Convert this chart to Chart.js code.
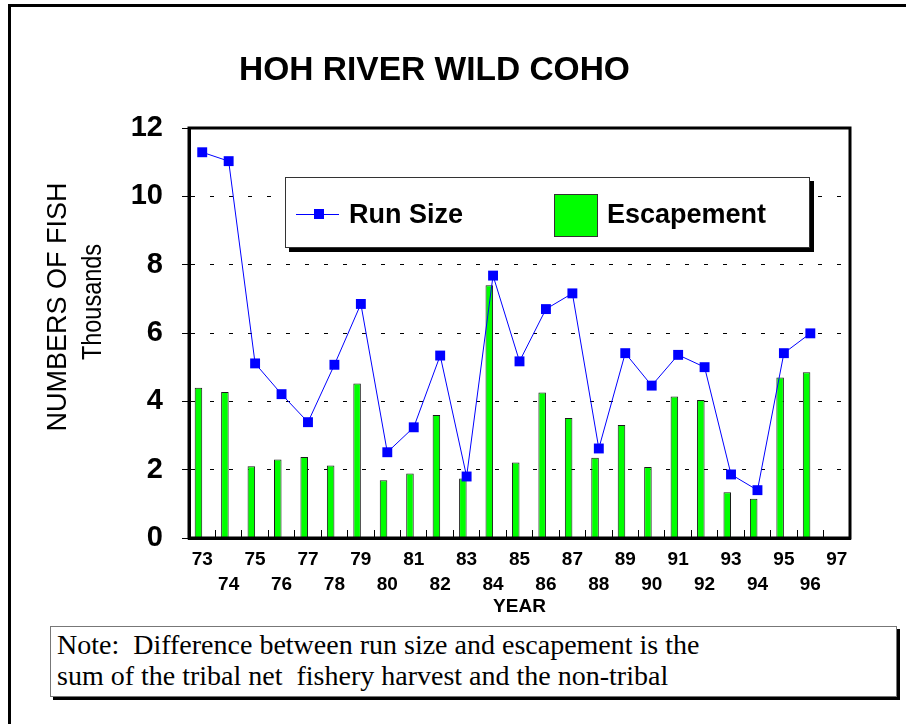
<!DOCTYPE html>
<html>
<head>
<meta charset="utf-8">
<title>Hoh River Wild Coho</title>
<script src="https://cdn.jsdelivr.net/npm/chart.js@4.4.1/dist/chart.umd.min.js"></script>
<style>
  html, body { margin: 0; padding: 0; background: #fff; }
  body { width: 906px; height: 724px; position: relative; overflow: hidden;
         font-family: "Liberation Sans", Arial, sans-serif; color: #000; }
  #chartBox { position: absolute; left: 0; top: 0; width: 906px; height: 620px; }

  /* page frame (top + left rule only, like the scan) */
  .frame-top  { position: absolute; left: 8px; top: 4px; width: 898px; height: 3px; background: #000; }
  .frame-left { position: absolute; left: 8px; top: 4px; width: 3px; height: 720px; background: #000; }

  .title { position: absolute; left: 0; top: 48px; width: 869px; text-align: center;
           font-weight: bold; font-size: 33.5px; line-height: 42px; }

  /* rotated y-axis caption; second line is a touch condensed like the scan */
  .ytitle { position: absolute; white-space: nowrap; font-size: 27px; line-height: 27px; }
  .ytitle.main { left: 57px; top: 307px; transform: translate(-50%, -50%) rotate(-90deg); }
  .ytitle.sub  { left: 92px; top: 302px; transform: translate(-50%, -50%) rotate(-90deg) scaleX(0.87); }

  /* legend box sits inside the plot */
  .legend { position: absolute; left: 285px; top: 177px; width: 525px; height: 71px;
            box-sizing: border-box; border: 1px solid #333; background: #fff;
            box-shadow: 4px 4px 0 #000; }
  .legend .lg-line { position: absolute; left: 10px; top: 36px; width: 43px; height: 1px; background: #0000ff; }
  .legend .lg-mark { position: absolute; left: 28px; top: 31px; width: 10px; height: 10px; background: #0000ff; }
  .legend .lg-swatch { position: absolute; left: 268px; top: 16px; width: 44px; height: 43px;
                       box-sizing: border-box; background: #00ff00; border: 1px solid #333; }
  .legend .lg-text { position: absolute; top: 23px; font-weight: bold; font-size: 27px; line-height: 27px; white-space: nowrap; }

  .note { position: absolute; left: 50px; top: 626px; width: 847px; height: 71px; box-sizing: border-box;
          border: 1px solid #777; background: #fff; box-shadow: 3px 3px 0 #000;
          font-family: "Liberation Serif", "Times New Roman", serif; font-size: 28px; line-height: 31px;
          padding: 2px 0 0 6px; white-space: pre; }
</style>
</head>
<body>
<div class="frame-top"></div>
<div class="frame-left"></div>

<div id="chartBox"><canvas id="cohoChart" width="906" height="620"></canvas></div>

<div class="title">HOH RIVER WILD COHO</div>
<div class="ytitle main">NUMBERS OF FISH</div>
<div class="ytitle sub">Thousands</div>

<div class="legend">
  <div class="lg-line"></div>
  <div class="lg-mark"></div>
  <div class="lg-text" style="left:63px">Run Size</div>
  <div class="lg-swatch"></div>
  <div class="lg-text" style="left:321px">Escapement</div>
</div>

<div class="note">Note:  Difference between run size and escapement is the
sum of the tribal net  fishery harvest and the non-tribal</div>

<script>
// ---- data (thousands of fish) ----
const years = ['73', '74', '75', '76', '77', '78', '79', '80', '81', '82', '83', '84',
               '85', '86', '87', '88', '89', '90', '91', '92', '93', '94', '95', '96', '97'];

const runSize = [11.29, 11.03, 5.11, 4.21, 3.39, 5.07, 6.85, 2.51, 3.24, 5.34, 1.80, 7.68,
                 5.17, 6.70, 7.16, 2.62, 5.41, 4.46, 5.36, 5.00, 1.86, 1.40, 5.41, 5.99];

const escapement = [4.40, 4.27, 2.10, 2.30, 2.37, 2.12, 4.52, 1.69, 1.89, 3.60, 1.74, 7.40,
                    2.21, 4.26, 3.51, 2.35, 3.31, 2.08, 4.14, 4.04, 1.34, 1.15, 4.70, 4.85];

const yMin = 0;
const yMax = 12;

document.addEventListener('DOMContentLoaded', () => {
  Chart.defaults.font.family = '"Liberation Sans", Arial, sans-serif';
  Chart.defaults.color = '#000';

  /* heavy box around the plot area */
  const plotFrame = {
    id: 'plotFrame',
    afterDatasetsDraw(chart) {
      const { ctx, chartArea: a } = chart;
      ctx.save();
      ctx.strokeStyle = '#000';
      ctx.lineWidth = 3;
      ctx.strokeRect(a.left, a.top, a.right - a.left, a.bottom - a.top);
      ctx.restore();
    }
  };

  const ctx = document.getElementById('cohoChart').getContext('2d');
  new Chart(ctx, {
    type: 'bar',
    data: {
      labels: years,
      datasets: [
        {
          type: 'line',
          label: 'Run Size',
          data: runSize,
          borderColor: '#0000ff',
          backgroundColor: '#0000ff',
          borderWidth: 1,
          pointStyle: 'rect',
          pointRadius: 7,
          pointBorderWidth: 0,
          tension: 0,
          order: 0
        },
        {
          label: 'Escapement',
          data: escapement,
          backgroundColor: '#00ff00',
          borderColor: '#1a1a1a',
          borderWidth: 1,
          categoryPercentage: 0.57,
          barPercentage: 1,
          order: 1
        },
        {
          // empty slot: pushes the green bars to the left of each year's marker
          label: '',
          data: [],
          categoryPercentage: 0.57,
          barPercentage: 1,
          order: 2
        }
      ]
    },
    options: {
      responsive: false,
      animation: false,
      layout: { padding: { left: 12, top: 128, right: 56, bottom: 0 } },
      plugins: {
        legend: { display: false },
        tooltip: { enabled: false },
        title: { display: false }
      },
      scales: {
        x: {
          grid: { offset: true, drawOnChartArea: false, drawTicks: true, tickLength: -8, tickColor: '#000', tickWidth: 1 },
          border: { color: '#000', width: 3 },
          ticks: {
            autoSkip: false, maxRotation: 0, minRotation: 0, padding: 18, color: '#000',
            font: { size: 19, weight: 'bold', lineHeight: 1.28 },
            // odd years on the first row, even years dropped to the second
            callback: (v, i) => (i % 2 ? ['', years[i]] : years[i])
          },
          title: {
            display: true, text: 'YEAR', color: '#000',
            font: { size: 19, weight: 'bold', lineHeight: 1.2 },
            padding: { top: 0, bottom: 2 }
          },
          afterFit: s => { s.height = 82; }
        },
        y: {
          min: yMin,
          max: yMax,
          ticks: {
            stepSize: 1, padding: 19, color: '#000',
            font: { size: 29, weight: 'bold' },
            callback: v => (v % 2 ? '' : v)
          },
          grid: {
            color: c => (c.tick && c.tick.value % 2 === 0 && c.tick.value > yMin && c.tick.value < yMax) ? '#000' : 'rgba(0,0,0,0)',
            lineWidth: 1,
            tickColor: '#000',
            tickLength: 7
          },
          border: { color: '#000', width: 3, dash: [4, 15] },
          title: { display: false },
          afterFit: s => { s.width = 177; }
        }
      }
    },
    plugins: [plotFrame]
  });
});
</script>
</body>
</html>
